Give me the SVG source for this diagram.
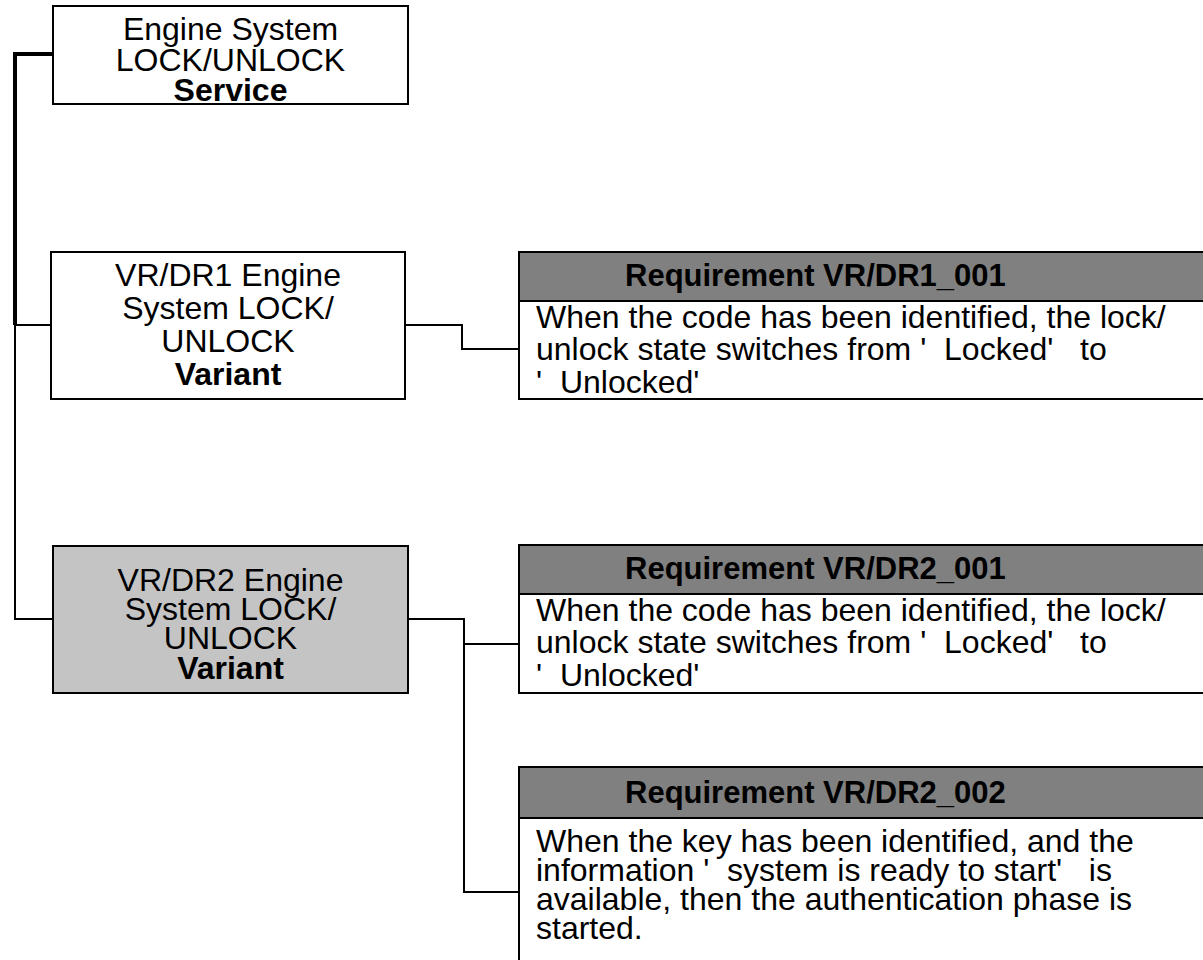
<svg xmlns="http://www.w3.org/2000/svg" width="1203" height="960" viewBox="0 0 1203 960">
<style>
.box{fill:#fff;stroke:#000;stroke-width:2}
.grey{fill:#c4c4c4;stroke:#000;stroke-width:2}
.hdr{fill:#808080;stroke:#000;stroke-width:2}
.t{font-family:"Liberation Sans",Arial,sans-serif;font-size:32px;fill:#000}
.c{text-anchor:middle}
.b{font-weight:bold}
.h{font-family:"Liberation Sans",Arial,sans-serif;font-size:31px;font-weight:bold;fill:#000}
.ln{fill:none;stroke:#000;stroke-width:2}
</style>
<rect width="1203" height="960" fill="#fff"/>
<g id="connectors">
<path d="M53,54 H15 V325" fill="none" stroke="#000" stroke-width="4"/>
<path class="ln" d="M15,324 V619 H53" stroke-width="2.5"/>
<path class="ln" d="M15,325 H51" stroke-width="2.5"/>
<path class="ln" d="M405,325 H462 V349 H519"/>
<path class="ln" d="M408,619 H464 V892 H519"/>
<path class="ln" d="M464,644 H519"/>
</g>
<g id="service">
<rect class="box" x="53" y="6" width="355" height="98"/>
<text class="t c" x="230.5" y="40">Engine System</text>
<text class="t c" x="230.5" y="71">LOCK/UNLOCK</text>
<text class="t c b" x="230.5" y="101">Service</text>
</g>
<g id="variant1">
<rect class="box" x="51" y="252" width="354" height="147"/>
<text class="t c" x="228" y="286">VR/DR1 Engine</text>
<text class="t c" x="228" y="319">System LOCK/</text>
<text class="t c" x="228" y="352">UNLOCK</text>
<text class="t c b" x="228" y="385">Variant</text>
</g>
<g id="variant2">
<rect class="grey" x="53" y="546" width="355" height="147"/>
<text class="t c" x="230.5" y="591">VR/DR2 Engine</text>
<text class="t c" x="230.5" y="620">System LOCK/</text>
<text class="t c" x="230.5" y="649">UNLOCK</text>
<text class="t c b" x="230.5" y="679">Variant</text>
</g>
<g id="req1">
<rect class="box" x="519" y="252" width="700" height="147"/>
<rect class="hdr" x="519" y="252" width="700" height="49"/>
<text class="h" x="625" y="286">Requirement VR/DR1_001</text>
<text class="t" x="536" y="328" xml:space="preserve">When the code has been identified, the lock/</text>
<text class="t" x="536" y="360" xml:space="preserve">unlock state switches from '  Locked'   to</text>
<text class="t" x="536" y="393" xml:space="preserve">'  Unlocked'</text>
</g>
<g id="req2">
<rect class="box" x="519" y="545" width="700" height="148"/>
<rect class="hdr" x="519" y="545" width="700" height="49"/>
<text class="h" x="625" y="579">Requirement VR/DR2_001</text>
<text class="t" x="536" y="621" xml:space="preserve">When the code has been identified, the lock/</text>
<text class="t" x="536" y="653" xml:space="preserve">unlock state switches from '  Locked'   to</text>
<text class="t" x="536" y="686" xml:space="preserve">'  Unlocked'</text>
</g>
<g id="req3">
<rect class="box" x="519" y="767" width="700" height="220"/>
<rect class="hdr" x="519" y="767" width="700" height="51"/>
<text class="h" x="625" y="803">Requirement VR/DR2_002</text>
<text class="t" x="536" y="852" xml:space="preserve">When the key has been identified, and the</text>
<text class="t" x="536" y="881" xml:space="preserve">information '  system is ready to start'   is</text>
<text class="t" x="536" y="910" xml:space="preserve">available, then the authentication phase is</text>
<text class="t" x="536" y="939" xml:space="preserve">started.</text>
</g>
</svg>
